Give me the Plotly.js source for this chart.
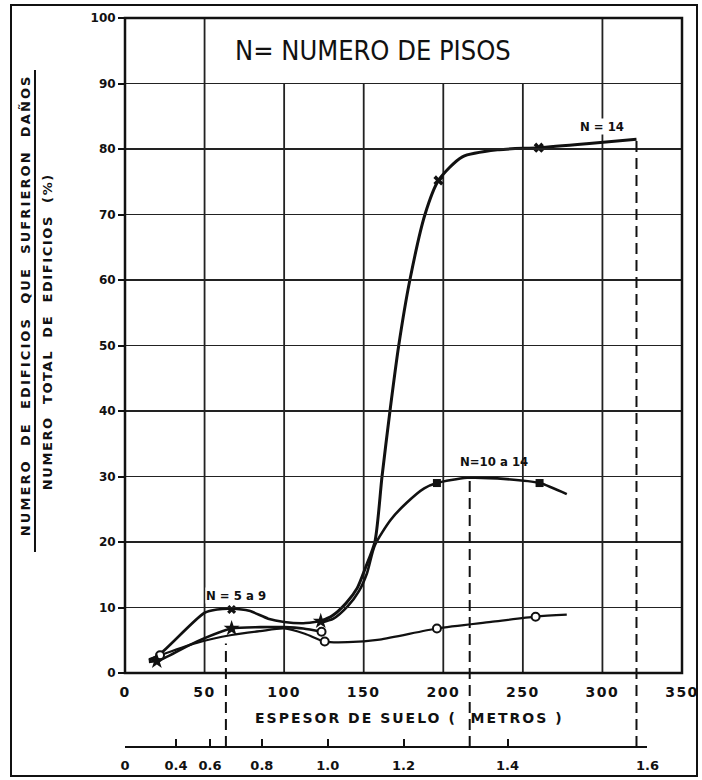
<!DOCTYPE html>
<html>
<head>
<meta charset="utf-8">
<script src="https://cdn.plot.ly/plotly-3.0.1.min.js"></script>
<style>
html,body{margin:0;padding:0;background:#fff}
#wrap{position:relative;width:702px;height:780px}
#chart{width:702px;height:780px}
#frame{position:absolute;left:10px;top:4px;width:688px;height:773px;border:2px solid #111;box-sizing:border-box;pointer-events:none}
</style>
</head>
<body>
<div id="wrap"><div id="chart"></div><div id="frame"></div></div>
<script>
// ---------- data ----------
// curve N = 5 a 9 (upper curve at small depth)
const n59X = [15, 22, 50, 58, 67, 78, 90, 100, 112, 123];
const n59Y = [1.9, 2.9, 9.2, 9.7, 9.8, 9.5, 8.3, 7.8, 7.6, 7.9];
// curve N = 14
const n14X = [123, 130, 139, 146, 151, 157, 161.5, 166.5, 172, 179, 188.5, 197, 212, 235, 260, 290, 321.4];
const n14Y = [7.9, 8.7, 10.7, 13, 16, 20, 30, 40, 50, 60, 70, 75.2, 78.8, 79.9, 80.2, 80.8, 81.5];
// curve N = 10 a 14
const n1014X = [123, 131, 140, 147, 152, 157, 167, 177, 188, 196, 215, 240, 260.5, 277.6];
const n1014Y = [7.7, 8.3, 10.2, 12.5, 15.2, 19.5, 23.4, 26, 28.2, 29, 29.8, 29.6, 29, 27.3];
// middle curve at small depth
const midX = [15, 22, 45, 67, 85, 100, 112, 123.5];
const midY = [1.7, 2.0, 4.8, 6.8, 7.0, 7.0, 6.8, 6.3];
// lower curve with open circles
const lowX = [15, 22, 45, 67, 85, 100, 113, 125.5, 140, 160, 196, 230, 258, 277.6];
const lowY = [2.1, 2.7, 4.6, 5.8, 6.4, 6.8, 6.0, 4.8, 4.7, 5.1, 6.8, 7.8, 8.6, 8.9];

// observed points (markers)
const circleX = [22, 123.5, 125.5, 196, 258];
const circleY = [2.7, 6.3, 4.8, 6.8, 8.6];
const crossX = [197, 260];
const crossY = [75.2, 80.2];
const squareX = [196, 260.5];
const squareY = [29, 29];
const blobX = [20, 67, 123];
const blobY = [1.8, 6.8, 7.9];
const peakX = [67];
const peakY = [9.7];

// axes / ticks
const xTickVals = [0, 50, 100, 150, 200, 250, 300, 350];
const yTickVals = [0, 10, 20, 30, 40, 50, 60, 70, 80, 90, 100];
const secTickPos = [0, 32, 53.4, 86, 127.4, 175, 240.4, 328.3];
const secTickText = ['0', '0.4', '0.6', '0.8', '1.0', '1.2', '1.4', '1.6'];

// grid and guide lines
const gridFull = [50, 300];
const gridShort = [100, 150, 200, 250];
const gridShortTop = 90;
const guideX = [63.4, 216.6, 321.4];
const guideTop = [4.5, 29.8, 81.5];

// texts
const titleText = 'N= NUMERO DE PISOS';
const labelN59 = 'N = 5 a 9';
const labelN1014 = 'N=10 a 14';
const labelN14 = 'N = 14';
const xTitle = 'ESPESOR DE SUELO (  METROS )';
const yTitleTop = 'NUMERO  DE  EDIFICIOS  QUE  SUFRIERON  DAÑOS';
const yTitleBottom = 'NUMERO  TOTAL  DE  EDIFICIOS  (%)';

// ---------- drawing ----------
const INK = '#111';
const BOLD = 'DejaVu Sans, sans-serif';
const COND = 'DejaVu Sans Condensed, DejaVu Sans, sans-serif';
const sp = (t, s) => '<span style="letter-spacing:' + s + 'px">' + t + '</span>';

const yMax = 100;
const domLow = 0.1015;
const belowBottom = -domLow / (1 - domLow);

function curve(x, y, w, name) {
  return {x: x, y: y, type: 'scatter', mode: 'lines', name: name, showlegend: false,
          line: {color: INK, width: w, shape: 'spline', smoothing: 0.7}, hoverinfo: 'skip'};
}
function pts(x, y, sym, size, name, lw, fill) {
  return {x: x, y: y, type: 'scatter', mode: 'markers', name: name, showlegend: false,
          marker: {symbol: sym, size: size, color: fill || INK,
                   line: {color: INK, width: lw || 0}}, hoverinfo: 'skip'};
}

const traces = [
  // empty trace that carries the second (period) axis
  {x: [0], y: [null], type: 'scatter', mode: 'markers', xaxis: 'x2', yaxis: 'y',
   showlegend: false, hoverinfo: 'skip', marker: {opacity: 0}},
  curve(lowX, lowY, 2.2, 'curva inferior'),
  curve(midX, midY, 2.6, 'curva intermedia'),
  curve(n59X, n59Y, 2.6, labelN59),
  curve(n1014X, n1014Y, 2.6, labelN1014),
  curve(n14X, n14Y, 3, labelN14),
  pts(circleX, circleY, 'circle', 8, 'círculos', 2, '#fff'),
  pts(crossX, crossY, 'x', 9, 'N=14 puntos'),
  pts(squareX, squareY, 'square', 8, 'N=10 a 14 puntos'),
  pts(blobX, blobY, 'star', 12, 'puntos'),
  pts(peakX, peakY, 'x', 8, 'N=5 a 9 punto')
];

const shapes = [];
gridFull.forEach(v => shapes.push({type: 'line', xref: 'x', yref: 'y', x0: v, x1: v, y0: 0, y1: yMax,
  layer: 'below', line: {color: '#222', width: 1.8}}));
gridShort.forEach(v => shapes.push({type: 'line', xref: 'x', yref: 'y', x0: v, x1: v, y0: 0, y1: gridShortTop,
  layer: 'below', line: {color: '#222', width: 1.8}}));
guideX.forEach((g, i) => shapes.push({type: 'line', xref: 'x', yref: 'y domain', x0: g, x1: g,
  y0: belowBottom, y1: guideTop[i] / yMax, line: {color: INK, width: 2, dash: '11px,6px'}}));
// plot border
shapes.push({type: 'rect', xref: 'x domain', yref: 'y domain', x0: 0, x1: 1, y0: 0, y1: 1,
  line: {color: INK, width: 2.5}});
// fraction bar of the y title
shapes.push({type: 'line', xref: 'paper', yref: 'paper', x0: -0.1616, x1: -0.1616, y0: 0.2675, y1: 0.9287,
  line: {color: INK, width: 2}});

const annotations = [
  {text: titleText, xref: 'x', yref: 'y', x: 156, y: 95, showarrow: false,
   font: {family: COND, size: 27, color: INK}},
  {text: labelN59, xref: 'x', yref: 'y', x: 70, y: 11.8, showarrow: false, bgcolor: '#fff', borderpad: 0,
   font: {family: COND, size: 13, color: INK, weight: 'bold'}},
  {text: labelN1014, xref: 'x', yref: 'y', x: 232, y: 32.3, showarrow: false,
   font: {family: COND, size: 13, color: INK, weight: 'bold'}},
  {text: labelN14, xref: 'x', yref: 'y', x: 300, y: 83.5, showarrow: false, bgcolor: '#fff', borderpad: 0,
   font: {family: COND, size: 13, color: INK, weight: 'bold'}},
  {text: sp(xTitle, 2), xref: 'paper', yref: 'paper', x: 0.51, y: 0.04, xanchor: 'center', yanchor: 'middle',
   showarrow: false, font: {family: BOLD, size: 14, color: INK, weight: 'bold'}},
  {text: sp(yTitleTop, 2.1), xref: 'paper', yref: 'paper', x: -0.1795, y: 0.606, textangle: -90,
   xanchor: 'center', yanchor: 'middle', showarrow: false,
   font: {family: BOLD, size: 13, color: INK, weight: 'bold'}},
  {text: sp(yTitleBottom, 1.6), xref: 'paper', yref: 'paper', x: -0.14, y: 0.569, textangle: -90,
   xanchor: 'center', yanchor: 'middle', showarrow: false,
   font: {family: BOLD, size: 13, color: INK, weight: 'bold'}}
];

const layout = {
  width: 702, height: 780,
  margin: {l: 125, r: 20, t: 18, b: 33},
  paper_bgcolor: '#fff', plot_bgcolor: 'rgba(0,0,0,0)',
  showlegend: false,
  xaxis: {domain: [0, 1], range: [0, 350], anchor: 'y', showgrid: false, zeroline: false, showline: false,
          tickmode: 'array', tickvals: xTickVals, ticktext: xTickVals.map(v => sp(String(v), 1.5)),
          ticks: '', ticklabelstandoff: 9,
          tickfont: {family: BOLD, size: 14, color: INK, weight: 'bold'}},
  yaxis: {domain: [domLow, 1], range: [0, 100], showgrid: true, gridcolor: '#222', gridwidth: 1.8,
          zeroline: false, showline: false, tickmode: 'array', tickvals: yTickVals,
          ticks: 'outside', ticklen: 6, tickwidth: 2, tickcolor: INK,
          tickfont: {family: BOLD, size: 12, color: INK, weight: 'bold'}},
  xaxis2: {domain: [0, 328.3 / 350], range: [0, 328.3], anchor: 'free', position: 0,
           showgrid: false, zeroline: false, showline: true, linecolor: INK, linewidth: 2,
           tickmode: 'array', tickvals: secTickPos, ticktext: secTickText,
           ticks: 'inside', ticklen: 7, tickwidth: 2, tickcolor: INK, ticklabelstandoff: 6,
           tickfont: {family: BOLD, size: 13, color: INK, weight: 'bold'}},
  shapes: shapes,
  annotations: annotations
};

Plotly.newPlot('chart', traces, layout, {displayModeBar: false, staticPlot: true});
</script>
</body>
</html>
